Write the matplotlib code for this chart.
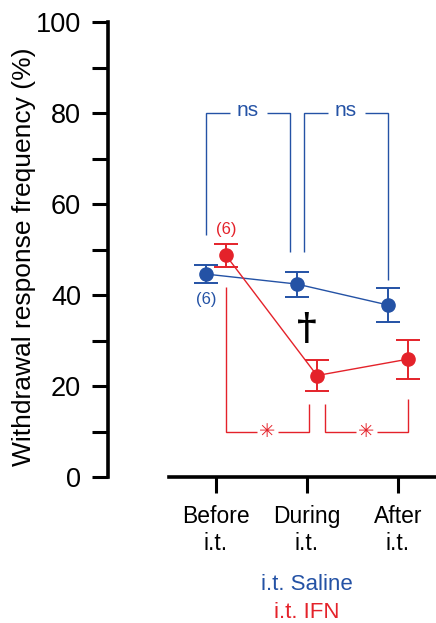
import matplotlib
matplotlib.use("Agg")
import matplotlib.pyplot as plt
import numpy as np

plt.rcParams['font.family'] = ['Liberation Sans', 'DejaVu Sans']

# ---- data ----
categories = ["Before\ni.t.", "During\ni.t.", "After\ni.t."]
saline_mean = [44.6, 42.4, 37.8]
saline_err = [2.0, 2.75, 3.8]
ifn_mean = [48.7, 22.3, 25.9]
ifn_err = [2.45, 3.4, 4.3]
n_label = "(6)"
series_names = ["i.t. Saline", "i.t. IFN"]

# significance brackets: (from index, to index, bar height, left drop, right drop, text)
saline_brackets = [(0, 1, 80, 53.2, 49.5, "ns"), (1, 2, 80, 49.5, 43.3, "ns")]
ifn_brackets = [(0, 1, 10, 41.7, 16.0, "\u2733"), (1, 2, 10, 16.0, 17.1, "\u2733")]
dagger_y = 32.7

BLUE = "#2452A5"
RED = "#E4222A"

W, H = 436, 623
fig = plt.figure(figsize=(W / 100, H / 100), dpi=100)
ax = fig.add_axes([108 / W, (H - 477) / H, 328 / W, 455 / H])

x = np.arange(len(categories))
px = 1 / 91.0  # one pixel in x data units
off = 10 * px
xs = x - off
xi = x + off

ax.errorbar(xs, saline_mean, yerr=saline_err, color=BLUE, marker='o', ms=9.5,
            lw=1.0, elinewidth=1.4, capsize=8.3, capthick=1.4, zorder=3)
ax.errorbar(xi, ifn_mean, yerr=ifn_err, color=RED, marker='o', ms=9.5,
            lw=1.0, elinewidth=1.4, capsize=8.3, capthick=1.4, zorder=3)


def bracket(xpos, brs, color, inner, gap, fs, text_dy, fam):
    for (a, b, h, la, lb, t) in brs:
        x0 = xpos[a] + (inner if a > 0 else 0)
        x1 = xpos[b] - (inner if b < len(xpos) - 1 else 0)
        mid = (x0 + x1) / 2
        ax.plot([x0, x0, mid - gap], [la, h, h], color=color, lw=1.0,
                solid_capstyle='butt', solid_joinstyle='miter')
        ax.plot([mid + gap, x1, x1], [h, h, lb], color=color, lw=1.0,
                solid_capstyle='butt', solid_joinstyle='miter')
        ax.text(mid, h + text_dy, t, color=color, fontsize=fs, ha='center',
                va='center', family=fam)


bracket(xs, saline_brackets, BLUE, 7 * px, 18.5 * px, 15, 0.5,
        ['Liberation Sans', 'DejaVu Sans'])
bracket(xi, ifn_brackets, RED, 8 * px, 10.5 * px, 14, 0.0, ['DejaVu Sans'])

ax.text(xs[0], saline_mean[0] - 5.6, n_label, color=BLUE, fontsize=12,
        ha='center', va='center')
ax.text(xi[0], ifn_mean[0] + 5.7, n_label, color=RED, fontsize=12,
        ha='center', va='center')
ax.text(x[1], dagger_y, "\u2020", color='black', fontsize=27,
        ha='center', va='center', family=['DejaVu Serif'], fontweight='bold')

ax.set_xlim(-108 * px, 2 + 38 * px)
ax.set_ylim(0, 100)
ax.set_xticks(x)
ax.set_xticklabels(categories, fontsize=16.5, linespacing=1.22)
ax.set_yticks(np.arange(0, 101, 20))
ax.set_yticks(np.arange(10, 100, 20), minor=True)
ax.tick_params(axis='y', which='major', labelsize=19.5, length=11.5, width=2.2,
               pad=8, direction='out')
ax.tick_params(axis='y', which='minor', length=11.5, width=2.2, direction='out')
ax.tick_params(axis='x', length=11.5, width=2.2, pad=9, direction='out')

for s in ['top', 'right']:
    ax.spines[s].set_visible(False)
ax.spines['left'].set_linewidth(2.6)
ax.spines['bottom'].set_linewidth(2.6)
ax.spines['bottom'].set_bounds(-(216 - 169) * px, 2 + 38 * px)
ax.spines['left'].set_bounds(0, 100)

fig.text(24 / W, 1 - 257 / H, "Withdrawal response frequency (%)", rotation=90,
         ha='center', va='center', fontsize=19)
fig.text(307 / W, 1 - 585 / H, series_names[0], color=BLUE, fontsize=16,
         ha='center', va='center')
fig.text(307 / W, 1 - 613 / H, series_names[1], color=RED, fontsize=16,
         ha='center', va='center')

fig.savefig("out.png", dpi=100)
